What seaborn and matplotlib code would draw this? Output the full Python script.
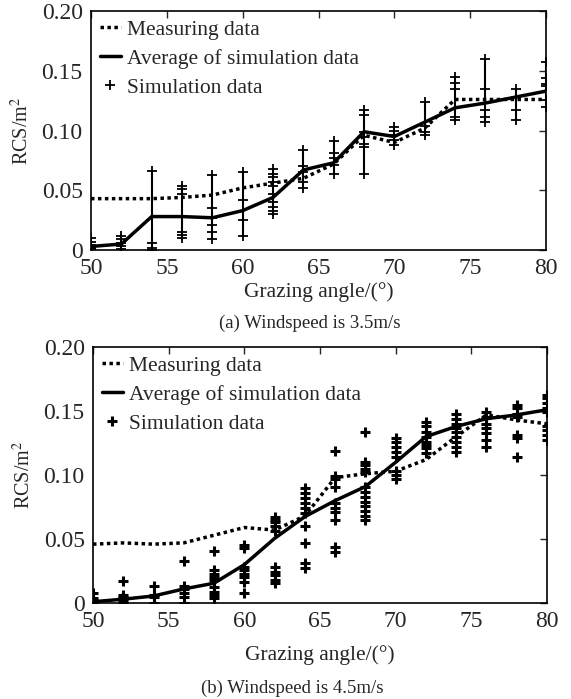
import matplotlib
matplotlib.use("Agg")
import matplotlib.pyplot as plt
from matplotlib.lines import Line2D
import seaborn as sns
import pandas as pd

angles = [50, 52, 54, 56, 58, 60, 62, 64, 66, 68, 70, 72, 74, 76, 78, 80]

# (a) windspeed 3.5 m/s
meas_a = [0.043, 0.043, 0.043, 0.044, 0.046, 0.052, 0.056, 0.060, 0.072, 0.096,
          0.090, 0.102, 0.126, 0.126, 0.126, 0.126]
avg_a = [0.003, 0.005, 0.028, 0.028, 0.027, 0.033, 0.044, 0.067, 0.073, 0.099,
         0.095, 0.107, 0.119, 0.123, 0.128, 0.133]
sim_a = [
    [0.001, 0.002, 0.004, 0.007, 0.010],
    [0.001, 0.003, 0.006, 0.009, 0.012],
    [0.0, 0.002, 0.006, 0.066],
    [0.054, 0.051, 0.047, 0.028, 0.015, 0.0125, 0.010],
    [0.063, 0.035, 0.0265, 0.021, 0.015, 0.009],
    [0.065, 0.042, 0.025, 0.012],
    [0.0675, 0.064, 0.061, 0.057, 0.054, 0.047, 0.040, 0.036, 0.033, 0.030],
    [0.084, 0.070, 0.065, 0.057, 0.052],
    [0.091, 0.081, 0.077, 0.071, 0.064],
    [0.117, 0.113, 0.099, 0.095, 0.089, 0.086, 0.064],
    [0.103, 0.0996, 0.096, 0.092, 0.088],
    [0.124, 0.104, 0.099, 0.096],
    [0.145, 0.140, 0.135, 0.1115, 0.109],
    [0.160, 0.135, 0.117, 0.1115, 0.107],
    [0.135, 0.128, 0.117, 0.109],
    [0.1575, 0.1437, 0.139, 0.137, 0.1255, 0.120],
]

# (b) windspeed 4.5 m/s
meas_b = [0.046, 0.047, 0.046, 0.047, 0.053, 0.059, 0.057, 0.068, 0.098, 0.101,
          0.103, 0.112, 0.130, 0.147, 0.143, 0.140]
avg_b = [0.001, 0.003, 0.0055, 0.011, 0.0155, 0.030, 0.0505, 0.0675, 0.080, 0.091,
         0.110, 0.130, 0.138, 0.144, 0.147, 0.151]
sim_b = [
    [0.0, 0.002, 0.004, 0.008],
    [0.017, 0.006, 0.005, 0.004, 0.002, 0.0],
    [0.0133, 0.006, 0.0044, 0.0],
    [0.033, 0.0133, 0.0107, 0.0076, 0.0044, 0.0],
    [0.041, 0.026, 0.023, 0.0205, 0.018, 0.0127, 0.0088, 0.006, 0.0037],
    [0.045, 0.043, 0.028, 0.026, 0.023, 0.0205, 0.0167, 0.008],
    [0.067, 0.065, 0.063, 0.060, 0.056, 0.028, 0.0245, 0.022, 0.018, 0.0154],
    [0.090, 0.086, 0.082, 0.078, 0.074, 0.070, 0.060, 0.047, 0.031, 0.027],
    [0.119, 0.099, 0.097, 0.091, 0.078, 0.074, 0.071, 0.065, 0.044, 0.040],
    [0.134, 0.110, 0.108, 0.105, 0.1026, 0.091, 0.087, 0.083, 0.079, 0.0755, 0.0716, 0.068, 0.065],
    [0.129, 0.126, 0.122, 0.118, 0.114, 0.103, 0.100, 0.097],
    [0.1417, 0.138, 0.134, 0.130, 0.126, 0.1234, 0.121, 0.117],
    [0.148, 0.144, 0.140, 0.137, 0.134, 0.130, 0.126, 0.122, 0.118],
    [0.1495, 0.1456, 0.140, 0.1365, 0.1326, 0.127, 0.122],
    [0.1547, 0.152, 0.148, 0.1456, 0.131, 0.1287, 0.114],
    [0.1625, 0.160, 0.156, 0.152, 0.1495, 0.138, 0.135, 0.131, 0.127],
]

yticks = [0, 0.05, 0.10, 0.15, 0.20]
ytick_labels = ["0", "0.05", "0.10", "0.15", "0.20"]
xticks = [50, 55, 60, 65, 70, 75, 80]

sns.set_style("white")
plt.rcParams["font.family"] = ["Liberation Serif", "DejaVu Serif"]
plt.rcParams["mathtext.fontset"] = "stix"


def long_sim(sim):
    rows = [(a, v) for a, vals in zip(angles, sim) for v in vals]
    return pd.DataFrame(rows, columns=["angle", "rcs"])


def draw(ax, meas, avg, sim, bars, mew, xpad, caption, cap_x, cap_y):
    lines = pd.DataFrame({"angle": angles, "meas": meas, "avg": avg})
    pts = long_sim(sim)
    if bars:
        ax.vlines(angles, [min(v) for v in sim], [max(v) for v in sim],
                  color="black", lw=1.5, zorder=2)
    sns.lineplot(data=lines, x="angle", y="meas", ax=ax, color="black",
                 lw=2.5, linestyle=(0, (1, 1)), zorder=3)
    sns.lineplot(data=lines, x="angle", y="avg", ax=ax, color="black",
                 lw=2.5, zorder=4)
    sns.scatterplot(data=pts, x="angle", y="rcs", ax=ax, marker="+",
                    color="black", s=60, linewidth=mew, zorder=5)
    ax.set_xlim(50, 80)
    ax.set_ylim(0, 0.20)
    ax.set_xticks(xticks)
    ax.set_yticks(yticks)
    ax.set_yticklabels(ytick_labels)
    ax.tick_params(direction="in", top=True, right=True, labelsize=17,
                   length=5, width=1)
    ax.tick_params(axis="x", pad=6)
    ax.tick_params(axis="y", pad=6)
    for s in ax.spines.values():
        s.set_linewidth(1.2)
        s.set_color("black")
    ax.set_xlabel("Grazing angle/(°)", fontsize=15.5, labelpad=xpad)
    ax.set_ylabel("RCS/m$^2$", fontsize=14.5, labelpad=6)
    handles = [
        Line2D([], [], color="black", lw=2.5, linestyle=(0, (1, 1))),
        Line2D([], [], color="black", lw=2.5),
        Line2D([], [], color="black", marker="+", linestyle="none",
               markersize=7, markeredgewidth=mew),
    ]
    ax.legend(handles, ["Measuring data", "Average of simulation data",
                        "Simulation data"], loc="upper left", frameon=False,
              fontsize=15.5, handlelength=1.0, handletextpad=0.25,
              labelspacing=0.42, borderaxespad=0.2, borderpad=0.2)
    fig.text(cap_x, cap_y, caption, ha="center", fontsize=13.5)


fig = plt.figure(figsize=(5.71, 6.99), dpi=100)
ax1 = fig.add_axes([0.1594, 0.6423, 0.7968, 0.3419])
ax2 = fig.add_axes([0.1629, 0.1373, 0.795, 0.3662])

draw(ax1, meas_a, avg_a, sim_a, True, 1.3, 2, "(a) Windspeed is 3.5m/s",
     0.543, 0.531)
draw(ax2, meas_b, avg_b, sim_b, False, 2.2, 9, "(b) Windspeed is 4.5m/s",
     0.511, 0.008)

fig.savefig("out.png", dpi=100)
